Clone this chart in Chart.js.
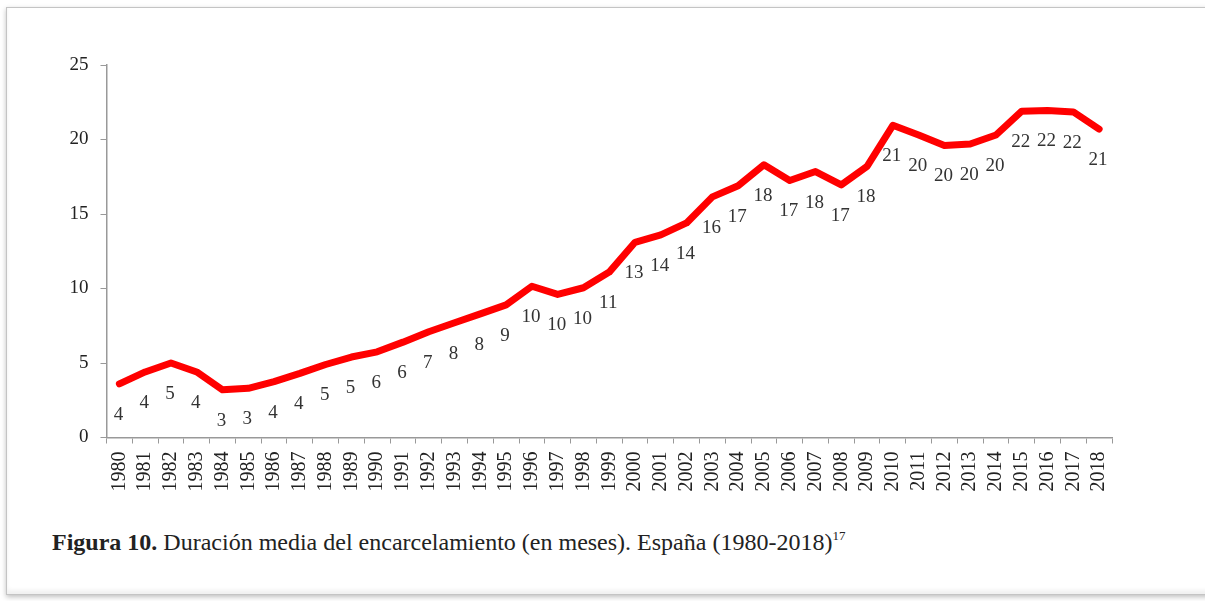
<!DOCTYPE html>
<html>
<head>
<meta charset="utf-8">
<script src="https://cdn.jsdelivr.net/npm/chart.js@4/dist/chart.umd.min.js"></script>
<style>
  body { margin: 0; background: #fff; width: 1205px; height: 601px; overflow: hidden; position: relative; }
  .marco {
    position: absolute; left: 6px; top: 7px; width: 1210px; height: 586px;
    border: 1px solid #c4c4c4; border-right: none;
    box-shadow: 0 2px 5px rgba(0,0,0,0.25), inset 0 -4px 4px rgba(0,0,0,0.06);
  }
  .lienzo { position: absolute; left: 0; top: 0; width: 1205px; height: 500px; }
  .pie {
    position: absolute; left: 52px; top: 529px; font-family: "Liberation Serif", serif;
    font-size: 24px; color: #222; white-space: nowrap;
  }
  .pie sup { font-size: 13px; vertical-align: 10px; line-height: 0; }
</style>
</head>
<body>
<div class="marco"></div>
<div class="lienzo"><canvas id="duracionChart"></canvas></div>
<div class="pie"><b>Figura 10.</b> Duración media del encarcelamiento (en meses). España (1980-2018)<sup>17</sup></div>

<script>
// Datos
const anios = ['1980','1981','1982','1983','1984','1985','1986','1987','1988','1989',
  '1990','1991','1992','1993','1994','1995','1996','1997','1998','1999',
  '2000','2001','2002','2003','2004','2005','2006','2007','2008','2009',
  '2010','2011','2012','2013','2014','2015','2016','2017','2018'];

const meses = [3.6, 4.4, 5.0, 4.4, 3.2, 3.3, 3.75, 4.3, 4.9, 5.4,
  5.75, 6.4, 7.1, 7.7, 8.3, 8.9, 10.15, 9.6, 10.05, 11.1,
  13.1, 13.6, 14.4, 16.15, 16.9, 18.3, 17.25, 17.85, 16.95, 18.2,
  20.95, 20.3, 19.6, 19.7, 20.3, 21.9, 21.95, 21.85, 20.7];

const etiquetas = [4, 4, 5, 4, 3, 3, 4, 4, 5, 5,
  6, 6, 7, 8, 8, 9, 10, 10, 10, 11,
  13, 14, 14, 16, 17, 18, 17, 18, 17, 18,
  21, 20, 20, 20, 20, 22, 22, 22, 21];

const ticksY = [0, 5, 10, 15, 20, 25];

const fuente = '"Liberation Serif", "Times New Roman", serif';

// etiquetas de valor debajo de la línea
const etiquetasPlugin = {
  id: 'etiquetasValor',
  afterDatasetsDraw(chart) {
    const ctx = chart.ctx;
    const meta = chart.getDatasetMeta(0);
    ctx.save();
    ctx.font = '19px ' + fuente;
    ctx.fillStyle = '#333';
    ctx.textAlign = 'center';
    ctx.textBaseline = 'middle';
    meta.data.forEach(function(p, i) {
      ctx.fillText(String(etiquetas[i]), p.x - 1, p.y + 31);
    });
    ctx.restore();
  }
};

new Chart(document.getElementById('duracionChart'), {
  type: 'line',
  data: {
    labels: anios,
    datasets: [{
      data: meses,
      borderColor: '#ff0000',
      borderWidth: 7,
      pointRadius: 0,
      tension: 0,
      borderJoinStyle: 'round',
      borderCapStyle: 'round'
    }]
  },
  options: {
    responsive: true,
    maintainAspectRatio: false,
    animation: false,
    layout: { padding: { top: 65, right: 93, left: 0, bottom: 0 } },
    plugins: {
      legend: { display: false },
      tooltip: { enabled: false }
    },
    scales: {
      x: {
        offset: true,
        grid: { display: true, drawOnChartArea: false, drawTicks: true, tickLength: 6, color: '#999', offset: true },
        border: { color: '#999', width: 1.5 },
        ticks: {
          autoSkip: false, minRotation: 90, maxRotation: 90, padding: 8,
          color: '#222', font: { family: fuente, size: 20 }
        },
        afterFit(scale) { scale.height = 62.5; }
      },
      y: {
        min: 0, max: 25,
        afterBuildTicks(scale) { scale.ticks = ticksY.map(v => ({ value: v })); },
        grid: { display: true, drawOnChartArea: false, drawTicks: true, tickLength: 6, color: '#999' },
        border: { color: '#999', width: 1.5 },
        ticks: { padding: 12, color: '#222', font: { family: fuente, size: 19 } },
        afterFit(scale) { scale.width = 106.5; }
      }
    }
  },
  plugins: [etiquetasPlugin]
});
</script>
</body>
</html>
